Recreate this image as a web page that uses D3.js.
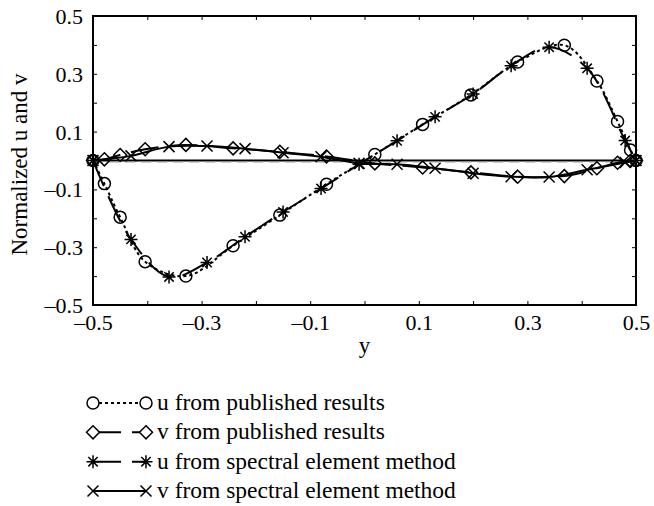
<!DOCTYPE html>
<html><head><meta charset="utf-8">
<script src="https://cdn.jsdelivr.net/npm/d3@7"></script>
<style>
html,body{margin:0;padding:0;background:#fff;}
svg text{font-family:"Liberation Serif","Times New Roman",serif;fill:#000;}
</style></head>
<body><svg id="c" width="654" height="506"></svg>
<script>
// ---- data ----
const pubX = [-0.5, -0.479, -0.450, -0.404, -0.329, -0.242, -0.156, -0.070, 0.019, 0.107, 0.196, 0.282, 0.368, 0.428, 0.466, 0.490, 0.5];
const uPub = [0, -0.080, -0.196, -0.350, -0.400, -0.295, -0.189, -0.082, 0.021, 0.125, 0.227, 0.341, 0.399, 0.275, 0.135, 0.036, 0];
const vPub = [0, 0.004, 0.019, 0.039, 0.054, 0.042, 0.030, 0.014, -0.010, -0.024, -0.041, -0.056, -0.054, -0.027, -0.008, -0.001, 0];
const semX = [-0.5, -0.43, -0.36, -0.29, -0.22, -0.15, -0.08, -0.01, 0.06, 0.13, 0.20, 0.27, 0.34, 0.41, 0.48, 0.5];
const uSem = [0, -0.273, -0.403, -0.353, -0.264, -0.178, -0.097, -0.013, 0.068, 0.151, 0.230, 0.328, 0.392, 0.319, 0.069, 0];
const vSem = [0, 0.016, 0.048, 0.050, 0.041, 0.027, 0.013, -0.010, -0.013, -0.027, -0.044, -0.056, -0.057, -0.032, -0.007, 0];
const majorTicks = [-0.5, -0.3, -0.1, 0.1, 0.3, 0.5];
const minorTicks = [-0.4, -0.2, 0, 0.2, 0.4];
const xTitle = "y";
const yTitle = "Normalized u and v";
const legendLabels = ["u from published results", "v from published results", "u from spectral element method", "v from spectral element method"];

// ---- layout ----
const FONT = '"Liberation Serif","Times New Roman",serif';
const L = 93, T = 16, W = 543, H = 289;
const svg = d3.select("#c");
const x = d3.scaleLinear().domain([-0.5, 0.5]).range([L, L + W]);
const y = d3.scaleLinear().domain([-0.5, 0.5]).range([T + H, T]);
const fmt = v => (v < 0 ? "\u2013" : "") + Math.abs(v).toFixed(1);
const allTicks = majorTicks.concat(minorTicks);

const tl = 4;
function styleAxis(g) {
  g.attr("font-family", FONT);
  g.select(".domain").remove();
  g.selectAll("line").attr("stroke", "#000");
}
svg.append("g").attr("transform", `translate(0,${T + H})`)
  .call(d3.axisBottom(x).tickValues(allTicks).tickSize(-tl).tickFormat(d => majorTicks.includes(d) ? fmt(d) : ""))
  .call(styleAxis)
  .call(g => g.selectAll("text").attr("font-size", 22).attr("dy", "0").attr("y", 25));
svg.append("g").attr("transform", `translate(0,${T})`)
  .call(d3.axisTop(x).tickValues(allTicks).tickSize(-tl).tickFormat(""))
  .call(styleAxis);
svg.append("g").attr("transform", `translate(${L},0)`)
  .call(d3.axisLeft(y).tickValues(allTicks).tickSize(-tl).tickFormat(d => majorTicks.includes(d) ? fmt(d) : ""))
  .call(styleAxis)
  .call(g => g.selectAll("text").attr("font-size", 22).attr("x", -10).attr("dy", "0.34em"));
svg.append("g").attr("transform", `translate(${L + W},0)`)
  .call(d3.axisRight(y).tickValues(allTicks).tickSize(-tl).tickFormat(""))
  .call(styleAxis);

// zero line
svg.append("line").attr("x1", x(-0.5)).attr("x2", x(0.5)).attr("y1", y(0)).attr("y2", y(0))
  .attr("stroke", "#000").attr("stroke-width", 2);
svg.append("line").attr("x1", x(-0.5)).attr("x2", x(0.5)).attr("y1", y(0) + 1.5).attr("y2", y(0) + 1.5)
  .attr("stroke", "#999").attr("stroke-width", 1).attr("stroke-dasharray", "10,6");

const line = d3.line().x(d => x(d[0])).y(d => y(d[1])).curve(d3.curveCatmullRom.alpha(0.5));
const zip = (a, b) => a.map((v, i) => [v, b[i]]);

const series = [
  { xs: pubX, ys: uPub, dash: "3,3", marker: "circle" },
  { xs: pubX, ys: vPub, dash: "28,11", marker: "diamond" },
  { xs: semX, ys: uSem, dash: "28,11", marker: "star" },
  { xs: semX, ys: vSem, dash: null, marker: "cross" }
];

function markerPath(type) {
  if (type === "circle") return d3.symbol(d3.symbolCircle, Math.PI * 36)();
  if (type === "diamond") { const s = 6.5; return `M0,${-s}L${s},0L0,${s}L${-s},0Z`; }
  if (type === "star") { const s = 6.5, d = s * 0.72; return `M0,${-s}V${s}M${-s},0H${s}M${-d},${-d}L${d},${d}M${-d},${d}L${d},${-d}`; }
  const s = 5.5; return `M${-s},${-s}L${s},${s}M${-s},${s}L${s},${-s}`;
}

series.forEach(sr => {
  const pts = zip(sr.xs, sr.ys);
  svg.append("path").attr("d", line(pts)).attr("fill", "none").attr("stroke", "#000")
    .attr("stroke-width", 2).attr("stroke-dasharray", sr.dash);
  svg.append("g").selectAll("path").data(pts).join("path")
    .attr("transform", d => `translate(${x(d[0])},${y(d[1])})`)
    .attr("d", markerPath(sr.marker)).attr("fill", "none").attr("stroke", "#000").attr("stroke-width", 1.5);
});

// frame
svg.append("rect").attr("x", L).attr("y", T).attr("width", W).attr("height", H)
  .attr("fill", "none").attr("stroke", "#000").attr("stroke-width", 2);

// titles
svg.append("text").attr("x", x(0)).attr("y", 353).attr("text-anchor", "middle").attr("font-family", FONT).attr("font-size", 23).text(xTitle);
svg.append("text").attr("transform", `translate(27,${y(0) + 4}) rotate(-90)`).attr("text-anchor", "middle").attr("font-family", FONT).attr("font-size", 23).text(yTitle);

// legend
const lg = svg.append("g").attr("font-family", FONT);
const rowY = d3.scalePoint().domain(d3.range(4)).range([403, 491]);
series.forEach((sr, i) => {
  const cy = rowY(i);
  lg.append("line").attr("x1", 93).attr("x2", 146).attr("y1", cy).attr("y2", cy)
    .attr("stroke", "#000").attr("stroke-width", 2).attr("stroke-dasharray", sr.dash);
  [93, 146].forEach(mx => lg.append("path").attr("transform", `translate(${mx},${cy})`)
    .attr("d", markerPath(sr.marker)).attr("fill", "#fff").attr("stroke", "#000").attr("stroke-width", 1.5));
  lg.append("text").attr("x", 157).attr("y", cy + 7).attr("font-size", 23.5).text(legendLabels[i]);
});
</script></body></html>
